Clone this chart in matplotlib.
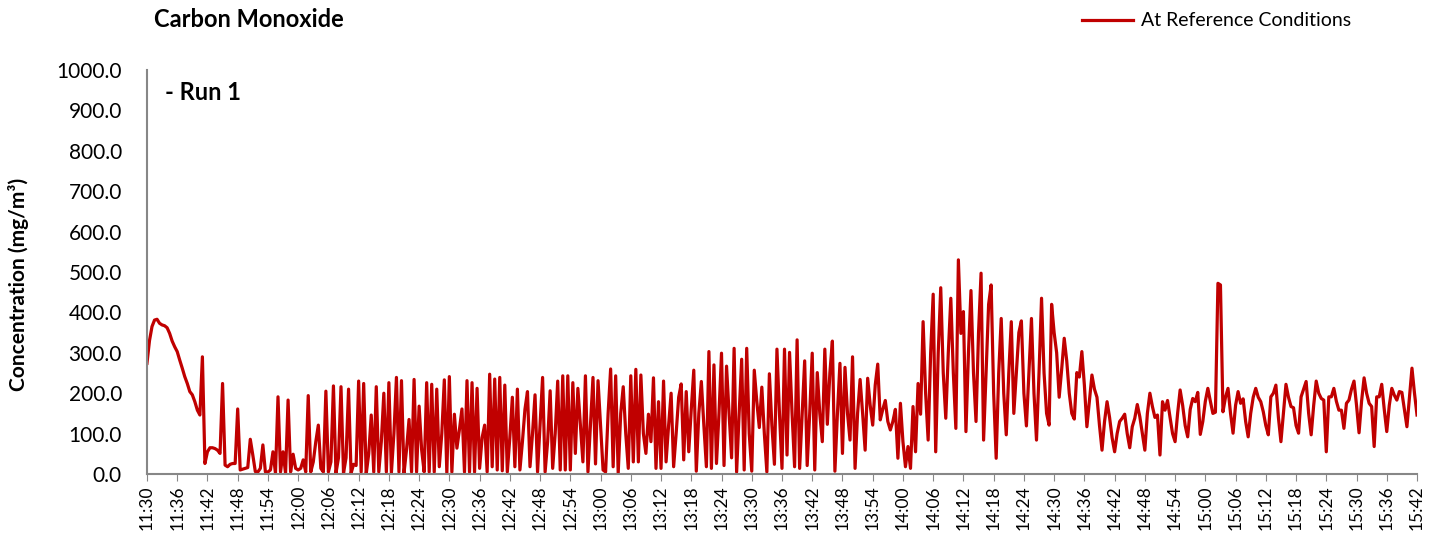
import numpy as np
import pandas as pd
import matplotlib
matplotlib.use('Agg')
from matplotlib import pyplot as plt

plt.rcParams['font.family'] = ['Lato', 'DejaVu Sans']

# CO concentration at reference conditions, one reading every 30 s from 11:30
co_values = [
    274, 330, 365, 381, 383, 373, 369, 367, 362, 348, 329, 315,   # 11:30
    303, 282, 262, 241, 224, 204, 196, 179, 158, 146, 290, 26,    # 11:36
    55, 65, 65, 63, 59, 51, 224, 22, 18, 24, 26, 26,              # 11:42
    161, 10, 12, 14, 16, 86, 47, 6, 5, 14, 72, 5,                 # 11:48
    5, 10, 55, 2, 191, 5, 55, 2, 183, 5, 49, 14,                  # 11:54
    10, 14, 35, 5, 194, 5, 30, 80, 121, 14, 5, 205,               # 12:00
    5, 30, 218, 2, 40, 216, 2, 40, 210, 2, 24, 21,                # 12:06
    230, 5, 224, 0, 50, 146, 5, 216, 5, 80, 200, 5,               # 12:12
    226, 3, 100, 239, 5, 231, 2, 60, 135, 5, 234, 5,              # 12:18
    168, 60, 5, 226, 5, 222, 5, 210, 18, 100, 233, 2,             # 12:24
    241, 5, 148, 64, 110, 161, 5, 231, 5, 226, 5, 212,            # 12:30
    14, 90, 121, 5, 247, 18, 235, 10, 239, 8, 220, 5,             # 12:36
    90, 190, 18, 210, 10, 80, 160, 204, 18, 100, 196, 5,          # 12:42
    120, 239, 5, 80, 206, 14, 100, 230, 10, 243, 10, 243,         # 12:48
    10, 226, 51, 212, 120, 30, 243, 5, 120, 239, 25, 231,         # 12:54
    120, 10, 5, 150, 260, 18, 243, 2, 150, 216, 100, 14,          # 13:00
    243, 30, 259, 30, 245, 100, 51, 148, 80, 238, 14, 179,        # 13:06
    14, 230, 30, 120, 200, 18, 100, 190, 223, 35, 204, 55,        # 13:12
    160, 257, 7, 150, 229, 120, 18, 303, 14, 270, 26, 150,        # 13:18
    299, 21, 267, 150, 40, 311, 5, 150, 284, 10, 311, 100,        # 13:24
    7, 257, 180, 115, 215, 100, 5, 248, 120, 24, 309, 150,        # 13:30
    14, 309, 47, 301, 150, 18, 332, 14, 150, 280, 21, 150,        # 13:36
    299, 10, 251, 150, 80, 309, 123, 250, 329, 7, 150, 274,       # 13:42
    51, 264, 150, 84, 290, 14, 150, 234, 150, 59, 237, 170,       # 13:48
    121, 220, 272, 134, 160, 182, 130, 109, 130, 160, 39, 175,    # 13:54
    80, 18, 68, 14, 167, 55, 224, 148, 377, 200, 84, 300,         # 14:00
    445, 55, 300, 461, 250, 138, 300, 435, 250, 113, 530, 348,    # 14:06
    402, 105, 300, 454, 250, 130, 350, 497, 84, 250, 420, 468,    # 14:12
    200, 39, 250, 385, 200, 97, 250, 377, 150, 250, 350, 379,     # 14:18
    200, 119, 250, 385, 200, 84, 250, 435, 250, 150, 121, 420,    # 14:24
    350, 300, 190, 260, 336, 280, 200, 150, 136, 251, 240, 303,   # 14:30
    220, 117, 180, 245, 210, 190, 120, 59, 130, 179, 140, 90,     # 14:36
    55, 100, 130, 138, 148, 100, 65, 117, 138, 172, 142, 100,     # 14:42
    59, 150, 200, 167, 140, 146, 47, 179, 158, 182, 140, 100,     # 14:48
    80, 150, 208, 170, 120, 92, 160, 187, 179, 202, 98, 130,      # 14:54
    180, 212, 180, 150, 153, 472, 468, 154, 190, 212, 150, 101,   # 15:00
    170, 204, 175, 186, 130, 92, 150, 190, 212, 190, 179, 154,    # 15:06
    120, 97, 191, 200, 220, 140, 80, 150, 222, 190, 167, 164,     # 15:12
    120, 101, 191, 210, 229, 150, 97, 170, 230, 200, 187, 183,    # 15:18
    55, 191, 191, 212, 180, 158, 158, 113, 175, 183, 210, 230,    # 15:24
    170, 102, 180, 238, 200, 175, 167, 68, 191, 191, 222, 160,    # 15:30
    105, 170, 212, 195, 183, 204, 202, 160, 117, 190, 262, 200,   # 15:36
    146,                                                          # 15:42
]
times = pd.date_range('2020-01-01 11:30', periods=len(co_values), freq='30s')
tick_times = times[::12]
tick_labels = [t.strftime('%H:%M') for t in tick_times]
y_ticks = np.arange(0, 1001, 100)

fig = plt.figure(figsize=(14.38, 5.49), dpi=100)
ax = fig.add_axes([0.1022, 0.1366, 0.8832, 0.7359])

ax.plot(times, co_values, color='#C00000', lw=2.3, solid_joinstyle='round',
        label='At Reference Conditions')

ax.set_xlim(times[0], times[-1])
ax.set_ylim(0, 1000)
ax.set_xticks(tick_times)
ax.set_xticklabels(tick_labels, rotation=90, fontsize=12.5)
ax.set_yticks(y_ticks)
ax.set_yticklabels(['%.1f' % v for v in y_ticks], fontsize=15)
ax.tick_params(axis='y', length=0, pad=18)
ax.tick_params(axis='x', length=5, color='#878787', direction='out', pad=3)

for s in ['top', 'right']:
    ax.spines[s].set_visible(False)
for s in ['left', 'bottom']:
    ax.spines[s].set_color('#878787')
    ax.spines[s].set_linewidth(1.5)

ax.set_ylabel('Concentration (mg/m³)', fontsize=15, fontweight='bold')
ax.yaxis.set_label_coords(-0.093, 0.47)
fig.text(0.107, 0.965, 'Carbon Monoxide', fontsize=17, fontweight='bold', va='center')
ax.text(0.014, 0.944, '- Run 1', transform=ax.transAxes, fontsize=17,
        fontweight='bold', va='center')

fig.legend(loc='center', bbox_to_anchor=(0.846, 0.962), frameon=False,
           fontsize=14, handlelength=2.6, handletextpad=0.4)

fig.savefig('out.png', dpi=100)
